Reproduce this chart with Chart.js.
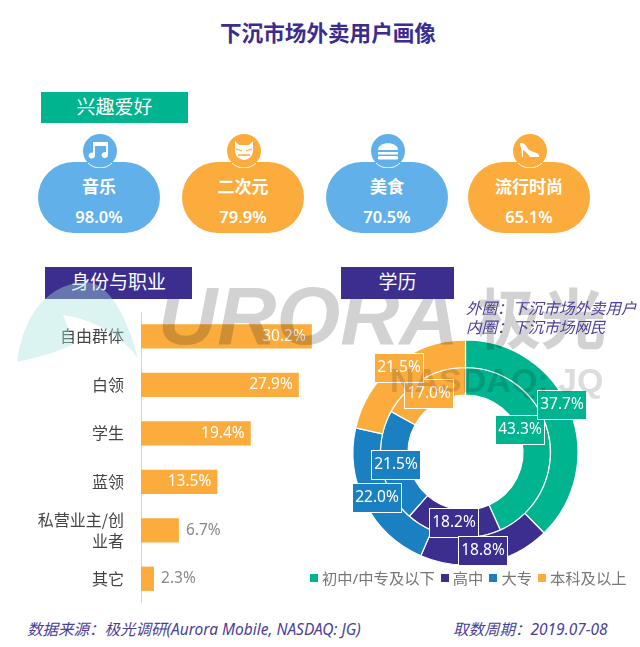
<!DOCTYPE html>
<html lang="zh">
<head>
<meta charset="utf-8">
<title>下沉市场外卖用户画像</title>
<script src="https://cdn.jsdelivr.net/npm/chart.js@4/dist/chart.umd.min.js"></script>
<style>
    html, body { margin: 0; padding: 0; background: #fff; }
    body { position: relative; width: 640px; height: 647px; overflow: hidden; font-family: "Noto Sans", "Noto Sans CJK SC", sans-serif; }
    .abs { position: absolute; }
    canvas { position: absolute; display: block; z-index: 1; }
    .title { left: 0; width: 656px; top: 18px; text-align: center; font-size: 21.6px; line-height: 30px; font-weight: 700; color: #3b2d8e; }
    .head { color: #fff; text-align: center; font-size: 19px; z-index: 3; }
    .card { top: 162px; width: 122px; height: 71px; border-radius: 36px; color: #fff; text-align: center; }
    .card .name { position: absolute; left: 0; right: 0; top: 12px; font-size: 17px; line-height: 26px; font-weight: 700; }
    .card .val { position: absolute; left: 0; right: 0; top: 42px; font-size: 16.5px; line-height: 26px; font-weight: 600; }
    .icon { top: 134px; width: 34px; height: 34px; }
    .mark { color: #d2d2d2; mix-blend-mode: multiply; z-index: 2; white-space: nowrap; pointer-events: none; }
    .note { color: #4a3f9a; font-style: italic; font-size: 15.5px; white-space: nowrap; z-index: 2; }
    .legend { top: 567px; left: 310px; display: flex; align-items: center; font-size: 15.3px; line-height: 22px; color: #777; white-space: nowrap; z-index: 2; }
    .legend i { display: inline-block; width: 8px; height: 8px; margin-right: 4px; }
    .legend span { margin-right: 6px; }
</style>
</head>
<body>
<div class="abs title">下沉市场外卖用户画像</div>
<div class="abs head" style="left:41px;top:92px;width:147px;height:31px;line-height:31px;background:#00b48f">兴趣爱好</div>
<div class="abs head" style="left:45px;top:267px;width:147px;height:32px;line-height:31px;background:#3c2e8f">身份与职业</div>
<div class="abs head" style="left:341px;top:267px;width:113px;height:32px;line-height:31px;background:#3c2e8f">学历</div>

<div id="cards"></div>

<canvas id="jobChart" width="339" height="291" style="left:0;top:312px"></canvas>
<canvas id="eduChart" width="261" height="261" style="left:335px;top:322px"></canvas>

<!-- watermark sits over the charts -->
<div class="abs mark" style="left:158px;top:269px;font:italic 700 82px/94px 'Liberation Sans',sans-serif">URORA</div>
<div class="abs mark" style="left:476px;top:270px;font:700 65px/90px 'Noto Sans CJK SC',sans-serif">极光</div>
<div class="abs mark" style="left:390px;top:356px;font:700 34px/48px 'Liberation Sans',sans-serif;color:#dcdcdc">NASDAQ: JQ</div>
<svg class="abs" width="160" height="100" viewBox="0 270 160 100" style="left:0;top:270px;z-index:4;pointer-events:none">
    <path fill="#a5e3df" fill-opacity="0.4" d="M17 362C22 325 40 285 85 282C110 282 128 320 138 358C120 335 95 320 63 315C68 325 70 335 72 345C55 353 35 358 17 362Z"/>
</svg>

<div class="abs note" style="left:466px;top:296px">外圈&#65306;下沉市场外卖用户</div>
<div class="abs note" style="left:466px;top:315px">内圈&#65306;下沉市场网民</div>
<div class="abs legend" id="eduLegend"></div>
<div class="abs note" style="left:27px;top:617px">数据来源&#65306;极光调研(Aurora Mobile, NASDAQ: JG)</div>
<div class="abs note" style="left:453px;top:617px">取数周期&#65306;2019.07-08</div>

<script>
// Interests
const interestNames = ['音乐', '二次元', '美食', '流行时尚'];
const interestValues = [98.0, 79.9, 70.5, 65.1];

// Identity and occupation
const jobLabels = ['自由群体', '白领', '学生', '蓝领', ['私营业主/创', '业者'], '其它'];
const jobValues = [30.2, 27.9, 19.4, 13.5, 6.7, 2.3];

// Education, outer ring = delivery users, inner ring = netizens
const eduLabels = ['初中/中专及以下', '高中', '大专', '本科及以上'];
const eduOuter = [37.7, 18.8, 22.0, 21.5];
const eduInner = [43.3, 18.2, 21.5, 17.0];

const TEAL = '#00b48f', NAVY = '#3c2e8f', BLUE = '#1a80c2', ORANGE = '#fbac3d', SKY = '#62b0ea';
const eduColors = [TEAL, NAVY, BLUE, ORANGE];
const CJK = '"Noto Sans CJK SC", sans-serif';
const NUM = '"Noto Sans", "Noto Sans CJK SC", sans-serif';

// Interest cards
const cardLeft = [38, 182, 326, 468];
const iconShapes = [
    '<path fill="#fff" d="M10 8H25V21a3.2 3 0 1 1-2-2.7V12H12V21.5a3.2 3 0 1 1-2-2.7Z"/>',
    '<path fill="#fff" d="M8 7L12 11H22L26 7V17C26 22 21 26 17 26C13 26 8 22 8 17Z"/><path stroke="#fbac3d" stroke-width="1.3" d="M9 15L15 17M25 15L19 17M11 21H23"/>',
    '<path fill="#fff" d="M7 16C7 7 27 7 27 16Z"/><rect fill="#fff" x="7" y="18" width="20" height="2.5"/><rect fill="#fff" x="7" y="22" width="20" height="3.5" rx="1.2"/>',
    '<path fill="#fff" d="M7 9C11 8 13 12 15 15C18 18 24 18 26 21V23H17C15 20 12 17 10 16L10 23H9L8.5 15C7.5 13 7 11 7 9Z"/>'
];
const cards = document.getElementById('cards');
interestNames.forEach((name, i) => {
    const color = i % 2 === 0 ? SKY : ORANGE;
    const left = cardLeft[i];
    cards.innerHTML +=
        `<div class="abs card" style="left:${left}px;background:${color}">` +
        `<div class="name">${name}</div><div class="val">${interestValues[i].toFixed(1)}%</div></div>` +
        `<svg class="abs icon" viewBox="0 0 34 34" style="left:${left + 45}px">` +
        `<circle cx="17" cy="17" r="17" fill="${color}"/>` +
        `<path d="M5 29A17 17 0 0 0 29 29" fill="none" stroke="#fff" stroke-width="1"/>${iconShapes[i]}</svg>`;
});

// Legend
document.getElementById('eduLegend').innerHTML = eduLabels.map((label, i) =>
    `<i style="background:${eduColors[i]}"></i><span>${label}</span>`).join('');

// Value labels on the bars
const barLabels = {
    id: 'barLabels',
    afterDatasetsDraw(chart) {
        const ctx = chart.ctx;
        ctx.save();
        ctx.font = '15.5px ' + NUM;
        ctx.textBaseline = 'middle';
        chart.getDatasetMeta(0).data.forEach((bar, i) => {
            const inside = jobValues[i] > 10;
            ctx.fillStyle = inside ? '#fff' : '#888';
            ctx.textAlign = inside ? 'right' : 'left';
            ctx.fillText(jobValues[i].toFixed(1) + '%', bar.x + (inside ? -6 : 7), bar.y);
        });
        ctx.restore();
    }
};

new Chart(document.getElementById('jobChart'), {
    type: 'bar',
    data: {
        labels: jobLabels,
        datasets: [{
            data: jobValues,
            backgroundColor: ORANGE,
            barPercentage: 0.5,
            categoryPercentage: 1
        }]
    },
    options: {
        indexAxis: 'y',
        responsive: false,
        animation: false,
        layout: { padding: 0 },
        plugins: { legend: { display: false }, tooltip: { enabled: false } },
        scales: {
            x: { display: false, min: 0, max: 35 },
            y: {
                afterFit: scale => {
                    scale.width = 141;
                    // labels are well inside the bands, no extra room needed
                    scale.paddingTop = 0;
                    scale.paddingBottom = 0;
                },
                grid: { display: false, drawTicks: false },
                border: { display: true, color: '#d5d5d5', width: 1 },
                ticks: {
                    padding: 17,
                    color: '#444',
                    font: { family: CJK, size: 16, lineHeight: 1.3 }
                }
            }
        }
    },
    plugins: [barLabels]
});

// Boxed labels on the rings, nudged off the arc centres like the original
const eduNudges = [
    [[5.5, -9.8], [-0.4, 0.9], [-0.5, 0.7], [-4.3, -7.4]],
    [[-14.7, -8.1], [-0.8, 0.1], [0.2, 0.2], [-0.7, 3.3]]
];
const ringLabels = {
    id: 'ringLabels',
    afterDatasetsDraw(chart) {
        const ctx = chart.ctx;
        ctx.save();
        ctx.font = '15.5px ' + NUM;
        ctx.textAlign = 'center';
        ctx.textBaseline = 'middle';
        // inner ring first, outer boxes lie on top
        [1, 0].forEach(d => {
            chart.getDatasetMeta(d).data.forEach((arc, i) => {
                const p = arc.getCenterPoint();
                const x = Math.round(p.x + eduNudges[d][i][0]);
                const y = Math.round(p.y + eduNudges[d][i][1]);
                ctx.fillStyle = eduColors[i];
                ctx.fillRect(x - 24.5, y - 14.5, 49, 29);
                ctx.strokeStyle = '#fff';
                ctx.lineWidth = 1;
                ctx.strokeRect(x - 24.5, y - 14.5, 49, 29);
                ctx.fillStyle = '#fff';
                ctx.fillText(chart.data.datasets[d].data[i].toFixed(1) + '%', x, y);
            });
        });
        ctx.restore();
    }
};

new Chart(document.getElementById('eduChart'), {
    type: 'doughnut',
    data: {
        labels: eduLabels,
        datasets: [
            { data: eduOuter, backgroundColor: eduColors, borderColor: '#fff', borderWidth: 1.2 },
            { data: eduInner, backgroundColor: eduColors, borderColor: '#fff', borderWidth: 1.2 }
        ]
    },
    options: {
        responsive: false,
        animation: false,
        radius: 112.5,
        cutout: '51.1%',
        plugins: { legend: { display: false }, tooltip: { enabled: false } }
    },
    plugins: [ringLabels]
});
</script>
</body>
</html>
